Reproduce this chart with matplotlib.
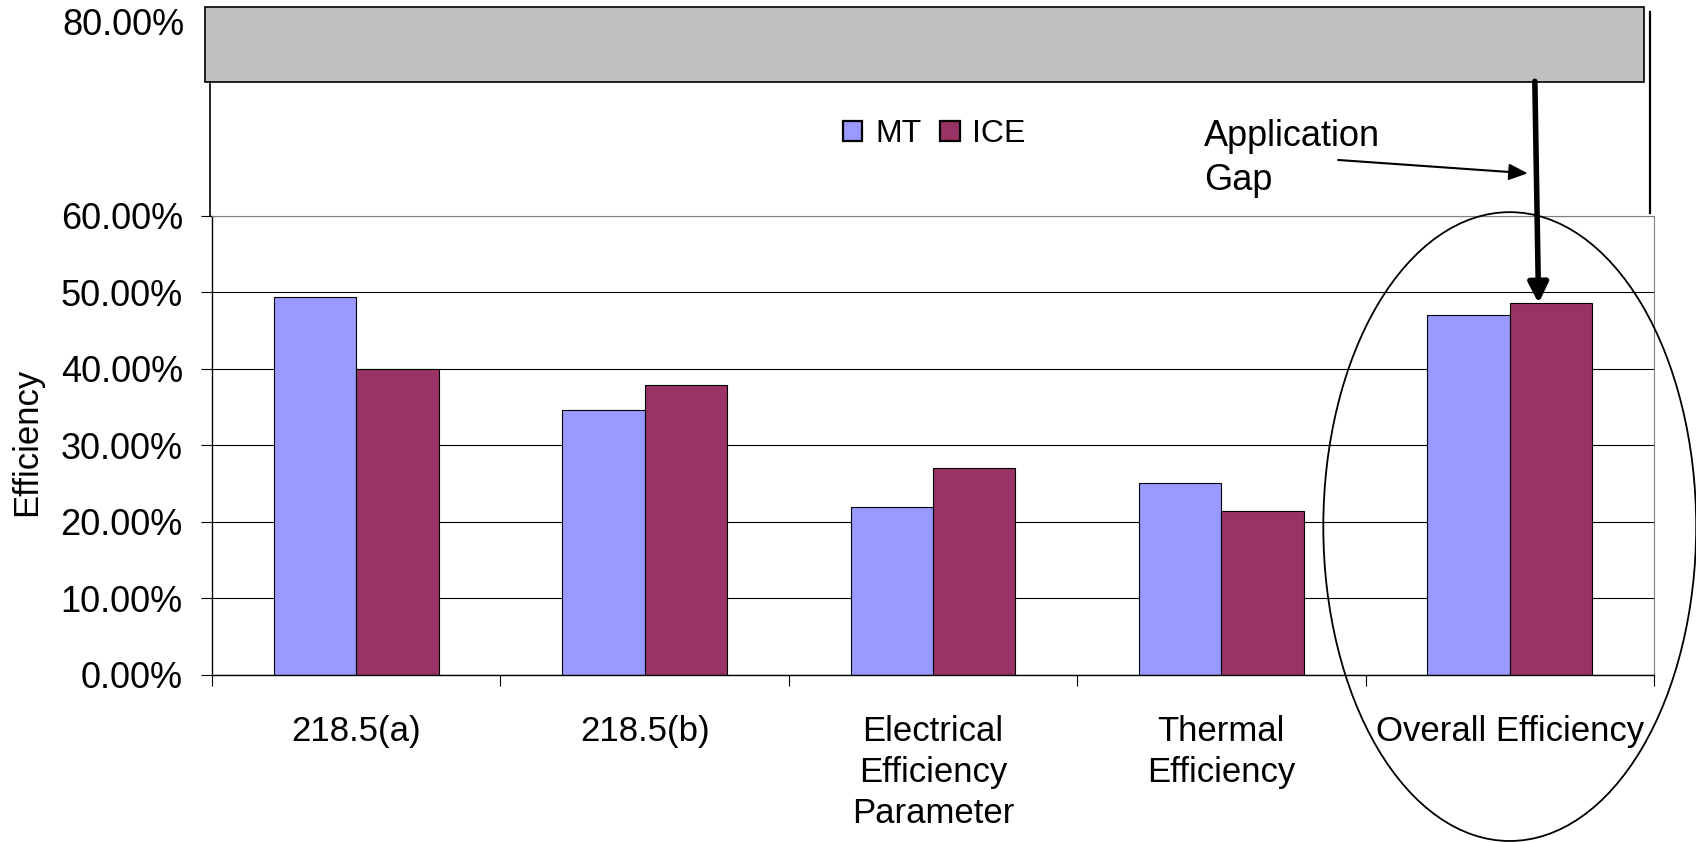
import matplotlib
matplotlib.use("Agg")
import matplotlib.pyplot as plt
import numpy as np
from matplotlib.patches import Ellipse, Rectangle

plt.rcParams['font.family'] = ['Liberation Sans', 'DejaVu Sans']

# efficiency per test, in percent
categories = ['218.5(a)', '218.5(b)', 'Electrical\nEfficiency\nParameter',
              'Thermal\nEfficiency', 'Overall Efficiency']
mt = [49.4, 34.6, 21.9, 25.1, 47.1]
ice = [40.0, 37.9, 27.1, 21.4, 48.6]
y_ticks = [0, 10, 20, 30, 40, 50, 60]

fig = plt.figure(figsize=(16.96, 8.43), dpi=100)
ax = fig.add_axes([0.1250, 0.1993, 0.8502, 0.5445])

x = np.arange(len(categories))
w = 1 / 3.5  # excel style gap width 150%
ax.bar(x - w / 2, mt, w, color='#9999FF', edgecolor='black', linewidth=0.8, label='MT', zorder=2)
ax.bar(x + w / 2, ice, w, color='#993366', edgecolor='black', linewidth=0.8, label='ICE', zorder=2)

# y axis
ax.set_yticks(y_ticks)
ax.set_yticklabels([f'{v:.2f}%' for v in y_ticks])
ax.tick_params(axis='y', length=8, width=0.8, pad=13, labelsize=26, direction='out')
ax.yaxis.grid(True, color='black', linewidth=0.8)
ax.set_axisbelow(True)

# x axis: ticks between groups, labels in the middle
ax.set_xticks(np.arange(-0.5, len(categories)), labels=[])
ax.set_xticks(x, labels=categories, minor=True)
ax.tick_params(axis='x', which='major', length=8, width=0.8, direction='out')
ax.tick_params(axis='x', which='minor', length=0, pad=29, labelsize=25)
for lbl in ax.get_xticklabels(minor=True):
    lbl.set_linespacing(1.3)

for side in ['top', 'right']:
    ax.spines[side].set_color('#808080')
    ax.spines[side].set_linewidth(0.8)
for side in ['left', 'bottom']:
    ax.spines[side].set_linewidth(1.0)

fig.text(27 / 1696, 1 - 441.7 / 843, 'Efficiency', rotation=90, fontsize=25,
         ha='center', va='center')

# grey 80% band above the plot
ax.add_patch(Rectangle((-0.0049, 1.291), 0.998, 0.165, transform=ax.transAxes,
                       facecolor='#C0C0C0', edgecolor='black', linewidth=1.2, clip_on=False))
ax.text(-0.0192, 1.414, '80.00%', transform=ax.transAxes, ha='right', va='center', fontsize=26)
ax.plot([-0.0014, -0.0014], [1.0, 1.291], transform=ax.transAxes, color='black',
        linewidth=1.2, clip_on=False)
ax.plot([0.9972, 0.9972], [1.0065, 1.444], transform=ax.transAxes, color='black',
        linewidth=1.6, clip_on=False)

leg = ax.legend(loc='center', bbox_to_anchor=(0.501, 1.178), ncol=2, frameon=False, fontsize=23,
                handlelength=0.6, handleheight=0.6, handletextpad=0.4, columnspacing=0.6)
for h in leg.legend_handles:
    h.set_linewidth(1.6)

# application gap annotation
ax.text(0.688, 1.212, 'Application\nGap', transform=ax.transAxes, ha='left', va='top',
        fontsize=26, linespacing=1.35)
ax.annotate('', xy=(0.9125, 1.093), xytext=(0.781, 1.122), xycoords='axes fraction',
            textcoords='axes fraction',
            arrowprops=dict(arrowstyle='-|>,head_length=1.15,head_width=0.5', color='black',
                            lw=1.5, shrinkA=0, shrinkB=0, mutation_scale=10))
ax.annotate('', xy=(x[4] + 0.1, ice[4]), xytext=(x[4] + 0.087, 77.6),
            arrowprops=dict(arrowstyle='-|>,head_length=1.2,head_width=0.6', color='black',
                            lw=4, shrinkA=0, shrinkB=0, mutation_scale=10),
            annotation_clip=False)

ax.add_patch(Ellipse((x[4], 19.4), 1.293, 82.2, fill=False, edgecolor='black',
                     linewidth=1.3, clip_on=False, zorder=3))

ax.set_xlim(-0.5, len(categories) - 0.5)
ax.set_ylim(0, 60)

fig.savefig('out.png', dpi=100)
